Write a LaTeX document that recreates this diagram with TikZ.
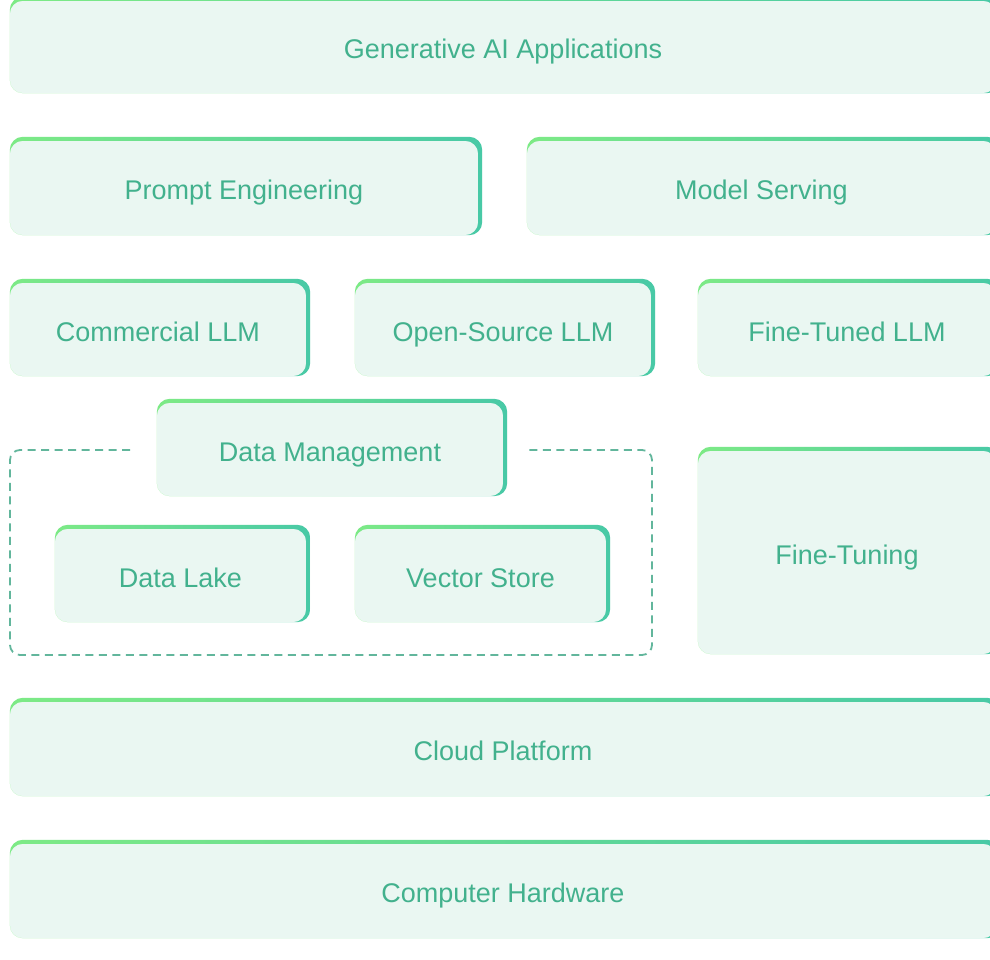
\documentclass[tikz,border=0pt]{standalone}
\usepackage{fontspec}
\setmainfont{Liberation Sans}
\definecolor{boxbg}{HTML}{EAF7F2}
\definecolor{gA}{HTML}{7DEA86}
\definecolor{gB}{HTML}{48C9A6}
\definecolor{txt}{HTML}{42B18D}
\definecolor{frame}{HTML}{62B69C}
\tikzset{
  boxfill/.style={fill=boxbg, draw=none, rounded corners=13pt, inner sep=0pt},
  topborder/.style={left color=gA, right color=gB, even odd rule, rounded corners=13pt},
  boxtext/.style={text=txt, font=\fontsize{27}{32}\selectfont, inner sep=0pt, anchor=base},
  groupframe/.style={draw=frame, line width=1.8pt, dash pattern=on 8pt off 5.5pt, rounded corners=10pt}
}
\newcommand\lbox[6]{%
  \node[boxfill, minimum width={(#4-#2)*1pt}, minimum height={(#5-#3)*1pt}] (#1) at ({(#2+#4)/2},{(#3+#5)/2}) {};
  \shade[topborder] (#1.north west) rectangle (#1.south east)
     ([yshift=-4pt]#1.north west) rectangle ([xshift=-4pt]#1.south east);
  \node[boxtext] (#1-t) at ([xshift=-2pt,yshift=-13.5pt]#1.center) {#6};
}
\begin{document}
\begin{tikzpicture}[x=1pt,y=-1pt]
\useasboundingbox (0,0) rectangle (990,959);
\clip (0,0) rectangle (990,959);
\lbox{gen}{10}{-3}{1000}{93}{Generative AI Applications}
\lbox{prompt}{10}{137}{482}{235}{Prompt Engineering}
\lbox{serving}{527}{137}{1000}{235}{Model Serving}
\lbox{comm}{10}{279}{310}{376}{Commercial LLM}
\lbox{open}{355}{279}{655}{376}{Open-Source LLM}
\lbox{tuned}{698}{279}{1000}{376}{Fine-Tuned LLM}
\draw[groupframe] (130,450) -- (10,450) -- (10,655) -- (652,655) -- (652,450) -- (525,450);
\lbox{dm}{157}{399}{507}{496}{Data Management}
\lbox{lake}{55}{525}{310}{622}{Data Lake}
\lbox{vec}{355}{525}{610}{622}{Vector Store}
\lbox{ft}{698}{447}{1000}{654}{Fine-Tuning}
\lbox{cloud}{10}{698}{1000}{796}{Cloud Platform}
\lbox{hw}{10}{840}{1000}{938}{Computer Hardware}
\end{tikzpicture}
\end{document}
